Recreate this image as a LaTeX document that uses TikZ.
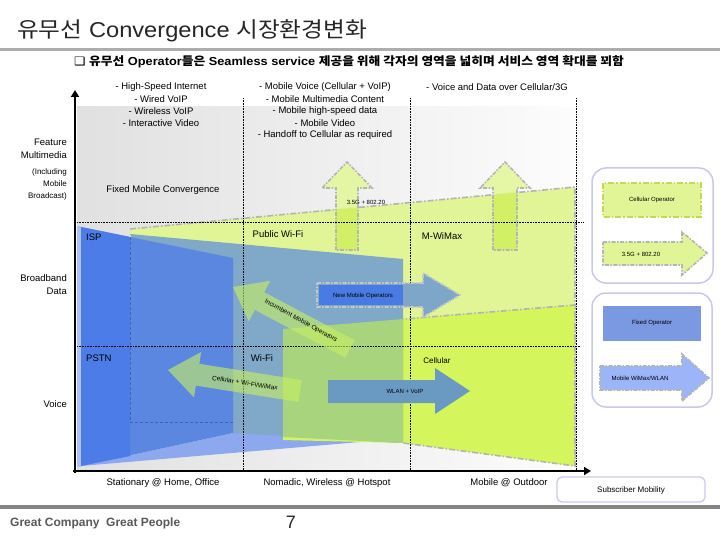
\documentclass[tikz,border=0pt]{standalone}
\usepackage{fontspec}
\setmainfont{Liberation Sans}
\newfontfamily\kr{Noto Sans CJK KR}
\newfontfamily\dejavu{DejaVu Sans}
\usetikzlibrary{arrows.meta}
\definecolor{ylight}{HTML}{E1F596}
\definecolor{ygreen}{HTML}{D4F55C}
\definecolor{gmix}{HTML}{A8D47E}
\definecolor{bgrey}{HTML}{80A8C8}
\definecolor{bfront}{HTML}{5B87E0}
\definecolor{bstrip}{HTML}{4C7CE8}
\definecolor{blight}{HTML}{8EA8F0}
\definecolor{arrgreen}{HTML}{C8F060}
\definecolor{upfill}{HTML}{E3F79C}
\definecolor{upfilltwo}{HTML}{D2F066}
\definecolor{dashgray}{HTML}{B4B4B4}
\definecolor{legendc}{HTML}{C8C8EE}
\definecolor{fixedop}{HTML}{7B98E2}
\definecolor{wimax}{HTML}{9CB4F8}
\definecolor{steel}{HTML}{7EA6C8}
\definecolor{wlan}{HTML}{6A9AC2}
\definecolor{nmo}{HTML}{4A7BE2}
\definecolor{cellbord}{HTML}{C8D850}
\begin{document}
\begin{tikzpicture}[x=1pt,y=-1pt,
  txt/.style={inner sep=0pt, font=\fontsize{9.5}{11}\selectfont},
  midtxt/.style={inner sep=0pt, font=\fontsize{8}{9}\selectfont},
  smalltxt/.style={inner sep=0pt, font=\fontsize{6}{7}\selectfont},
  dotline/.style={densely dotted, line width=0.6pt, black},
  slabedge/.style={draw=dashgray, line width=1.6pt, dash pattern=on 6pt off 2pt on 1.5pt off 2pt},
  arrowedge/.style={draw=dashgray, line width=1.6pt, dash pattern=on 4pt off 1.5pt on 1.5pt off 1.5pt},
  legbox/.style={draw=legendc, line width=1.5pt, rounded corners=14pt},
  axisline/.style={line width=2.6pt, -{Triangle[length=7pt,width=8pt]}},
]
\useasboundingbox (0,0) rectangle (720,540);
\fill[white] (0,0) rectangle (720,540);

% title
\node[anchor=west, inner sep=0pt, font=\fontsize{21.5}{24}\selectfont, text=black!85] (title) at (17,31) {\scalebox{1.1}[1]{{\kr 유무선} Convergence {\kr 시장환경변화}}};
\fill[black!32] (0,48) rectangle (720,51.5);
\node[anchor=west, inner sep=0pt, font=\fontsize{11.6}{13}\selectfont\bfseries] (sub) at (74,62) {\scalebox{1.1}[1]{{\dejavu ❑} {\kr 유무선} Operator{\kr 들은} Seamless service {\kr 제공을 위해 각자의 영역을 넓히며 서비스 영역 확대를 꾀함}}};

% background panel
\shade[left color=black!12, right color=black!1] (77,107) rectangle (576,470);

% light yellow slab
\fill[ylight] (130,229) -- (575,187) -- (575,466) -- (403,443) -- (283,437) -- (233,433) -- (130,440) -- cycle;
\draw[slabedge] (130,229) -- (575,187) -- (575,466);

% up arrows
\fill[upfill, fill opacity=0.9] (336,250) -- (336,188) -- (322,188) -- (347,162) -- (372,188) -- (358,188) -- (358,250) -- cycle;
\fill[upfill, fill opacity=0.9] (493,250) -- (493,188) -- (480,188) -- (505,162) -- (530,188) -- (517,188) -- (517,250) -- cycle;
\begin{scope}
\clip (130,229) -- (575,187) -- (575,466) -- (130,466) -- cycle;
\fill[upfilltwo] (336,188) rectangle (358,250);
\fill[upfilltwo] (493,188) rectangle (517,250);
\end{scope}
\draw[arrowedge] (336,250) -- (336,188) -- (322,188) -- (347,162) -- (372,188) -- (358,188) -- (358,250) -- cycle;
\draw[arrowedge] (493,250) -- (493,188) -- (480,188) -- (505,162) -- (530,188) -- (517,188) -- (517,250) -- cycle;

% light blue wedge
\fill[blight] (81,466) -- (233,433) -- (360,437) -- (360,442) -- cycle;

% bright green slab
\fill[ygreen] (283,329) -- (575,305) -- (575,466) -- (403,443) -- (283,440) -- cycle;
\draw[slabedge] (283,329) -- (575,305) -- (575,466) -- (403,443);

% blue-grey slab
\fill[bgrey] (130,234) -- (403,259) -- (403,443) -- (233,433) -- cycle;
\fill[gmix] (283,329) -- (403,319) -- (403,443) -- (283,437) -- cycle;

% blue front
\fill[blight!70] (77,226) rectangle (81,467);
\fill[bfront] (81,227) -- (233,258) -- (233,433) -- (81,466) -- cycle;
\fill[bstrip] (81,227) -- (130,237) -- (130,456) -- (81,466) -- cycle;
\draw[densely dashed, bstrip!80!black, line width=0.5pt] (130,237) -- (130,422) -- (233,422);

% dotted grid
\draw[dotline] (243,98) -- (243,470);
\draw[dotline] (410,98) -- (410,470);
\draw[dotline] (576,98) -- (576,470);
\draw[dotline] (77,222) -- (584,222);
\draw[dotline] (77,346) -- (581,346);

% New Mobile Operators arrow
\fill[steel] (317,283) -- (423,283) -- (423,273) -- (460,295) -- (423,317) -- (423,307) -- (317,307) -- cycle;
\draw[arrowedge, draw=black!22] (317,283) -- (423,283) -- (423,273) -- (460,295) -- (423,317) -- (423,307) -- (317,307) -- cycle;
\fill[nmo] (319,285) rectangle (403,305);
\node[smalltxt] (nmot) at (363,296) {New Mobile Operators};

% WLAN + VoIP arrow
\fill[wlan] (328,380) -- (435,380) -- (435,368) -- (470,391) -- (435,414) -- (435,403) -- (328,403) -- cycle;
\node[smalltxt] (wlant) at (405,391) {WLAN + VoIP};

% Incumbent Mobile Operators arrow
\fill[arrgreen, fill opacity=0.6] (233,287) -- (270.3,280.7) -- (264.2,292.2) -- (354.7,340.2) -- (345.3,357.8) -- (254.8,309.9) -- (248.7,321.4) -- cycle;
\node[smalltxt, font=\fontsize{6.5}{7}\selectfont, rotate=-29] (inct) at (301,321) {Incumbent Mobile Operators};

% Cellular + Wi-Fi/WiMax arrow
\fill[arrgreen, fill opacity=0.6] (168,370) -- (201.2,352.0) -- (199.3,363.8) -- (301.7,380.1) -- (298.3,401.9) -- (195.9,385.6) -- (194.0,397.4) -- cycle;
\node[smalltxt, font=\fontsize{6.5}{7}\selectfont, rotate=-9] (cwt) at (245,383) {Cellular + Wi-Fi/WiMax};

% axes
\draw[axisline] (75,473) -- (75,90);
\draw[axisline] (73,471) -- (591,471);

% column headers
\node[txt] (h1a) at (161,87) {- High-Speed Internet};
\node[txt] (h1b) at (161,99) {- Wired VoIP};
\node[txt] (h1c) at (161,111) {- Wireless VoIP};
\node[txt] (h1d) at (161,123) {- Interactive Video};
\node[txt] (h2a) at (325,87) {- Mobile Voice (Cellular + VoIP)};
\node[txt] (h2b) at (325,99) {- Mobile Multimedia Content};
\node[txt] (h2c) at (325,111) {- Mobile high-speed data};
\node[txt] (h2d) at (325,123) {- Mobile Video};
\node[txt] (h2e) at (325,135) {- Handoff to Cellular as required};
\node[txt] (h3a) at (497,87) {- Voice and Data over Cellular/3G};

% left labels
\node[txt, anchor=east] (feat) at (67,142) {Feature};
\node[txt, anchor=east] (mm) at (67,155) {Multimedia};
\node[midtxt, anchor=east] (incl) at (67,172) {(Including};
\node[midtxt, anchor=east] (mob) at (67,184) {Mobile};
\node[midtxt, anchor=east] (bc) at (67,196) {Broadcast)};
\node[txt, anchor=east] (bb) at (67,278) {Broadband};
\node[txt, anchor=east] (dat) at (67,291) {Data};
\node[txt, anchor=east] (voi) at (67,404) {Voice};

% area labels
\node[txt] (fmc) at (163,190) {Fixed Mobile Convergence};
\node[txt, anchor=west] (isp) at (86,237) {ISP};
\node[txt] (pwf) at (278,234) {Public Wi-Fi};
\node[txt] (mwm) at (442,236) {M-WiMax};
\node[smalltxt] (g35) at (366,202) {3.5G + 802.20};
\node[txt, anchor=west] (pstn) at (86,358) {PSTN};
\node[txt] (wifi) at (262,358) {Wi-Fi};
\node[midtxt] (cell) at (437,361) {Cellular};

% bottom labels
\node[txt] (st) at (163,483) {Stationary @ Home, Office};
\node[txt] (no) at (327,483) {Nomadic, Wireless @ Hotspot};
\node[txt] (mo) at (509,483) {Mobile @ Outdoor};
\draw[draw=legendc, line width=1.2pt, rounded corners=5pt] (557,477) rectangle (705,502);
\node[midtxt] (sm) at (631,490) {Subscriber Mobility};

% legend
\draw[legbox] (592,168) rectangle (713,283);
\fill[ylight] (603,183) rectangle (701,217);
\draw[cellbord, line width=1.5pt, dash pattern=on 6pt off 2pt on 1.5pt off 2pt] (603,183) rectangle (701,217);
\node[smalltxt] (lco) at (652,200) {Cellular Operator};
\fill[ylight] (603,242) -- (682,242) -- (682,232) -- (707,253) -- (682,275) -- (682,265) -- (603,265) -- cycle;
\draw[arrowedge] (603,242) -- (682,242) -- (682,232) -- (707,253) -- (682,275) -- (682,265) -- (603,265) -- cycle;
\node[smalltxt] (l35) at (641,254) {3.5G + 802.20};

\draw[legbox] (592,293) rectangle (712,407);
\fill[fixedop] (603,306) rectangle (701,341);
\node[smalltxt] (lfo) at (652,323) {Fixed Operator};
\fill[wimax] (600,366) -- (682,366) -- (682,354) -- (709,378) -- (682,401) -- (682,390) -- (600,390) -- cycle;
\draw[arrowedge] (600,366) -- (682,366) -- (682,354) -- (709,378) -- (682,401) -- (682,390) -- (600,390) -- cycle;
\node[smalltxt] (lmw) at (640,378) {Mobile WiMax/WLAN};

% footer
\fill[black!48] (0,505) rectangle (720,509);
\node[anchor=west, inner sep=0pt, font=\fontsize{12}{14}\selectfont\bfseries, text=black!65] (gc) at (10,523) {Great Company\ \ Great People};
\node[inner sep=0pt, font=\fontsize{18}{20}\selectfont, text=black!85] (pg) at (291,522) {7};
\end{tikzpicture}
\end{document}
